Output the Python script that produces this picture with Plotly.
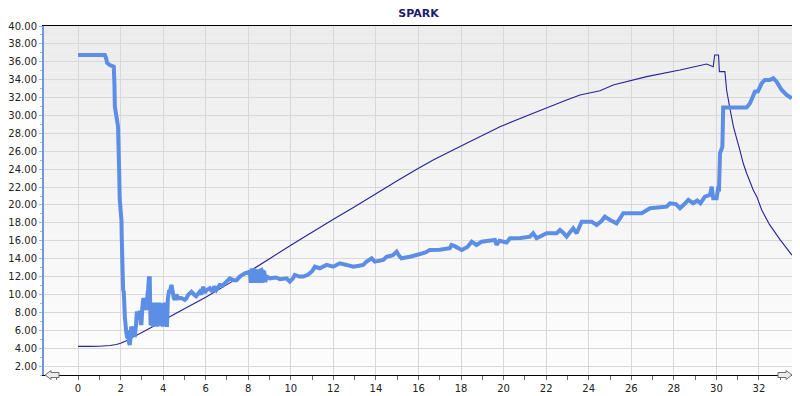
import plotly.graph_objects as go

# ---------------- data ----------------
thin_x = [0, 0.5, 1.0, 1.5, 1.8, 2.0, 2.25, 2.5, 2.75, 3.0, 3.5, 4.0, 4.5, 5.0, 5.5, 6.0,
          7.0, 8.0, 9.0, 10.0, 11.0, 12.0, 13.0, 14.0, 15.0, 16.0, 16.69, 18.26, 19.83,
          21.39, 22.96, 23.59, 24.53, 25.15, 26.72, 28.29, 29.54, 29.85, 29.92, 30.1,
          30.14, 30.4, 30.48, 30.64, 30.8, 30.95, 31.1, 31.26, 31.42, 31.58, 31.73,
          31.9, 32.13, 32.5, 33.0, 33.55]
thin_y = [4.2, 4.2, 4.22, 4.3, 4.4, 4.55, 4.8, 5.15, 5.45, 5.75, 6.4, 7.1, 7.75, 8.4, 9.05, 9.7,
          11.1, 12.5, 14.0, 15.5, 16.95, 18.4, 19.8, 21.25, 22.7, 24.1, 25.03, 26.9, 28.75,
          30.25, 31.73, 32.29, 32.77, 33.4, 34.34, 35.08, 35.75, 35.45, 36.76, 36.76,
          34.9, 34.9, 32.85, 30.7, 28.75, 27.45, 26.15, 24.66, 23.54, 22.6, 21.68,
          20.93, 19.44, 17.8, 16.1, 14.4]

band_x = [3.41, 3.43, 3.45, 3.47, 3.49, 3.51, 3.53, 3.55, 3.57, 3.59, 3.61, 3.63, 3.65,
          3.67, 3.69, 3.71, 3.73, 3.75, 3.77, 3.79, 3.81, 3.83, 3.85, 3.87, 3.89, 3.91,
          3.93, 3.95, 3.97, 3.99, 4.01, 4.03, 4.05, 4.07, 4.09, 4.11, 4.13, 4.15, 4.17]
band_y = [6.6, 9.0, 6.5, 8.8, 6.9, 9.1, 6.4, 8.9, 6.7, 9.0, 6.5, 8.7, 6.6, 9.1, 6.8,
          8.9, 6.4, 9.0, 6.6, 8.8, 6.5, 9.1, 6.9, 8.9, 6.5, 9.0, 6.6, 8.7, 6.4, 9.0,
          6.7, 8.9, 6.5, 9.1, 6.6, 8.8, 6.5, 9.0, 6.6]

thick_x = ([0, 1.26, 1.33, 1.36, 1.49, 1.68, 1.71, 1.73, 1.88, 1.93, 1.96, 2.04, 2.05,
            2.09, 2.12, 2.15, 2.2, 2.27, 2.32, 2.36, 2.4, 2.43, 2.47, 2.5, 2.55, 2.59,
            2.63, 2.67, 2.72, 2.76, 2.82, 2.86, 2.9, 2.95, 2.98, 3.02, 3.06, 3.12, 3.16,
            3.21, 3.25, 3.29, 3.33, 3.37, 3.39]
           + band_x +
           [4.18, 4.22, 4.27, 4.31, 4.39, 4.45, 4.5, 4.55, 4.62, 4.7, 4.85, 5.02, 5.1,
            5.17, 5.33, 5.45, 5.55, 5.72, 5.8, 5.88, 5.95, 6.05, 6.19, 6.3, 6.4, 6.5,
            6.66, 6.8, 6.98, 7.13, 7.3, 7.45, 7.6, 7.84, 8.07, 8.12, 8.16, 8.25, 8.28,
            8.33, 8.42, 8.45, 8.5, 8.6, 8.63, 8.68, 8.75, 8.8, 8.86, 9.01, 9.3, 9.5,
            9.8, 9.95, 10.1, 10.19, 10.4, 10.58, 10.8, 11.0, 11.13, 11.36, 11.68, 11.99,
            12.3, 12.62, 12.93, 13.2, 13.4, 13.56, 13.8, 13.95, 14.34, 14.5, 14.8, 14.97,
            15.1, 15.2, 15.6, 15.9, 16.3, 16.53, 17.0, 17.47, 17.55, 17.7, 18.03, 18.3,
            18.5, 18.73, 18.97, 19.3, 19.59, 19.67, 19.8, 20.14, 20.3, 20.8, 21.24,
            21.39, 21.55, 22.02, 22.49, 22.65, 22.8, 22.96, 23.1, 23.27, 23.43, 23.67,
            24.14, 24.37, 24.6, 24.76, 25.0, 25.31, 25.5, 25.62, 26.49, 26.88, 27.66,
            27.82, 28.1, 28.29, 28.5, 28.68, 28.91, 29.1, 29.25, 29.46, 29.7, 29.78,
            29.85, 30.01, 30.09, 30.12, 30.17, 30.28, 30.32, 31.42, 31.58, 31.81, 31.95,
            32.13, 32.28, 32.5, 32.67, 32.83, 33.07, 33.3, 33.54])
thick_y = ([36.76, 36.76, 36.3, 35.9, 35.64, 35.45, 33.5, 31.0, 28.75, 24.0, 20.56, 18.3,
            16.8, 13.0, 10.5, 10.3, 7.5, 5.67, 5.1, 6.0, 4.6, 4.36, 5.2, 6.4, 6.0, 6.4,
            5.5, 5.47, 6.5, 7.9, 7.9, 7.2, 8.2, 6.78, 6.78, 8.5, 9.4, 9.4, 8.6, 8.27,
            9.6, 10.5, 11.8, 11.8, 9.0]
           + band_y +
           [6.6, 9.5, 10.3, 10.3, 11.06, 10.3, 9.6, 9.4, 10.0, 9.57, 9.6, 9.4, 9.6,
            9.95, 10.3, 10.0, 9.8, 10.3, 10.0, 10.87, 10.2, 10.5, 10.7, 10.3, 10.9, 10.5,
            11.06, 11.0, 11.43, 11.8, 11.6, 11.6, 12.0, 12.37, 12.55, 11.3, 12.7, 12.7,
            11.3, 12.5, 12.7, 11.3, 12.6, 12.7, 11.3, 12.6, 12.5, 11.4, 12.0, 11.8, 11.9,
            11.7, 11.8, 11.43, 11.8, 12.18, 12.0, 12.0, 12.2, 12.6, 13.1, 12.93, 13.3,
            13.1, 13.48, 13.3, 13.1, 13.2, 13.3, 13.67, 14.04, 13.67, 13.85, 14.22, 14.4,
            14.78, 14.3, 14.04, 14.22, 14.41, 14.67, 14.97, 15.0, 15.16, 15.53, 15.4,
            14.97, 15.3, 15.9, 15.53, 15.9, 16.0, 16.09, 15.53, 16.0, 15.8, 16.28, 16.3,
            16.46, 16.84, 16.28, 16.84, 16.84, 17.2, 16.9, 16.46, 16.9, 17.39, 16.84,
            18.13, 18.13, 17.76, 18.2, 18.69, 18.32, 17.95, 18.6, 19.07, 19.07, 19.63,
            19.81, 20.19, 20.1, 19.63, 20.1, 20.56, 20.19, 20.5, 20.2, 20.93, 21.12,
            22.05, 20.75, 20.75, 22.05, 21.5, 25.78, 26.5, 30.9, 30.9, 31.36, 32.66,
            32.7, 33.6, 33.97, 33.97, 34.16, 33.78, 32.85, 32.29, 31.92])

x_tick_vals = list(range(0, 34, 2))
y_tick_vals = list(range(2, 41, 2))

# ---------------- figure ----------------
fig = go.Figure()
fig.add_trace(go.Scatter(x=thin_x, y=thin_y, mode="lines",
                         line=dict(color="#24249a", width=1.1, simplify=False),
                         showlegend=False))
fig.add_trace(go.Scatter(x=thick_x, y=thick_y, mode="lines",
                         line=dict(color="#5b8ee4", width=4, simplify=False),
                         showlegend=False))

# page offset (browser body margin) is 8px; figure is sized so the plot area
# lands at page pixels L..R, T..B
OFF = 8
W, H = 800 - OFF, 396 - OFF
L, R, T, B = 44, 793, 26, 375
PW, PH = R - L, B - T


def px(x):
    return (x - L) / PW


def py(y):
    return (B - y) / PH


shapes = []
# vertical gradient background of the plot area
n = 30
for i in range(n):
    t = i / (n - 1)
    c = int(round(236 + (253 - 236) * t))
    shapes.append(dict(type="rect", xref="paper", yref="paper", layer="below",
                       x0=0, x1=1, y0=1 - (i + 1) / n, y1=1 - i / n,
                       fillcolor=f"rgb({c},{c},{c})", line=dict(width=0)))
# right border
shapes.append(dict(type="line", xref="paper", yref="paper", x0=1, x1=1, y0=0, y1=1,
                   line=dict(color="black", width=1)))


def arrow(tip, base_head, end):
    path = (f"M {px(tip)},{py(375)} L {px(base_head)},{py(370.5)} L {px(base_head)},{py(372.5)} "
            f"L {px(end)},{py(372.5)} L {px(end)},{py(377.5)} L {px(base_head)},{py(377.5)} "
            f"L {px(base_head)},{py(379.5)} Z")
    return dict(type="path", xref="paper", yref="paper", path=path,
                fillcolor="#ececec", line=dict(color="#6e6e6e", width=1))


shapes.append(arrow(45, 51, 59))
shapes.append(arrow(792, 786, 778))

font = dict(family="DejaVu Sans, Verdana, sans-serif", size=10, color="#222222")

fig.update_layout(
    width=W, height=H, autosize=False,
    margin=dict(l=L - OFF, r=800 - R, t=T - OFF, b=396 - B, pad=0, autoexpand=False),
    paper_bgcolor="white", plot_bgcolor="rgba(0,0,0,0)",
    font=font,
    title=dict(text="<b>SPARK</b>", x=0.5, xref="paper", xanchor="center",
               y=1 - (12.7 - OFF) / H, yref="container", yanchor="middle",
               font=dict(family="DejaVu Sans, Verdana, sans-serif", size=11, color="#1b1b6e")),
    shapes=shapes,
    xaxis=dict(range=[-1.6, 33.6], tickmode="array", tickvals=x_tick_vals,
               ticktext=[str(v) for v in x_tick_vals], automargin=False,
               showgrid=True, gridcolor="#d8d8d8", gridwidth=1, zeroline=False,
               showline=True, linecolor="black", linewidth=1, mirror=True,
               ticks="outside", ticklen=4, tickcolor="#666666",
               minor=dict(ticks="outside", ticklen=4, dtick=1, tick0=0, tickcolor="#666666",
                          showgrid=False),
               tickfont=font, fixedrange=True),
    yaxis=dict(range=[1, 40], tickmode="array", tickvals=y_tick_vals,
               ticktext=[f"{v:.2f}" for v in y_tick_vals], automargin=False,
               showgrid=True, gridcolor="#d8d8d8", gridwidth=1, zeroline=False,
               showline=True, linecolor="#6f98de", linewidth=2,
               ticks="outside", ticklen=3, tickcolor="#9ab5e6",
               minor=dict(ticks="outside", ticklen=2, dtick=1, tick0=0, tickcolor="#9ab5e6",
                          showgrid=False),
               tickfont=font, fixedrange=True),
)

fig.write_html("out.html")
